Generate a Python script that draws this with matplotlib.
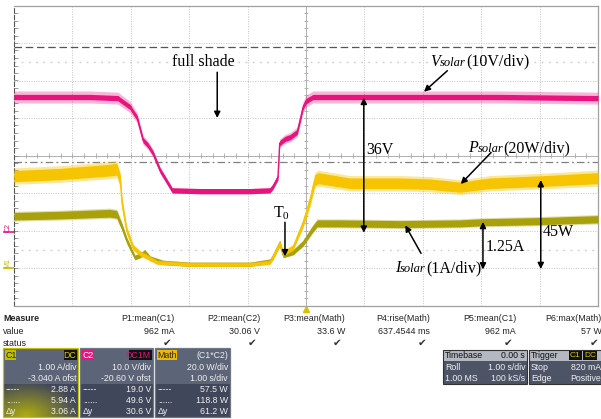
import numpy as np
import matplotlib.pyplot as plt
from matplotlib.patches import Rectangle
from matplotlib.offsetbox import TextArea, HPacker, AnnotationBbox

plt.rcParams['mathtext.fontset'] = 'custom'
plt.rcParams['mathtext.rm'] = 'Liberation Serif'
plt.rcParams['mathtext.it'] = 'Liberation Serif:italic'

# ---- scope data (time in s, 1 s/div) ----
t_v = [0, 1.30, 1.78, 1.82, 1.99, 2.04, 2.11, 2.21, 2.29, 2.38, 2.50, 2.71, 3.18, 4.04,
       4.38, 4.43, 4.52, 4.55, 4.64, 4.73, 4.85, 4.90, 4.95, 5.00, 5.12, 6.61, 8.32, 10.0]
v_solar = [36.2, 36.2, 35.9, 35.4, 33.5, 32.2, 30.6, 24.7, 23.4, 21.2, 16.7, 11.3, 11.1, 11.1,
           11.3, 12.2, 14.8, 23.9, 25.0, 25.5, 26.9, 30.1, 33.5, 35.1, 36.2, 36.2, 36.2, 35.9]

t_p = [0, 0.79, 1.64, 1.76, 1.82, 1.85, 1.93, 2.04, 2.16, 2.29, 2.45, 3.01, 4.04, 4.38, 4.43,
       4.55, 4.61, 4.78, 4.95, 5.07, 5.15, 5.21, 5.75, 6.61, 7.12, 7.64, 8.15, 9.01, 10.0]
p_solar = [49.6, 50.7, 52.8, 53.3, 47.4, 35.1, 20.7, 11.6, 8.4, 6.3, 3.6, 2.5, 2.5, 3.6, 6.3,
           13.8, 8.4, 11.6, 24.5, 36.7, 47.4, 48.5, 45.8, 45.8, 45.3, 43.7, 45.8, 46.9, 48.5]

t_i = [0, 0.79, 1.64, 1.76, 1.85, 1.93, 2.07, 2.16, 2.24, 2.33, 2.55, 3.01, 4.04, 4.38, 4.43,
       4.55, 4.61, 4.78, 4.95, 5.10, 5.19, 5.58, 6.61, 7.64, 8.03, 9.01, 10.0]
i_solar = [1.42, 1.45, 1.50, 1.47, 1.13, 0.78, 0.32, 0.38, 0.46, 0.30, 0.19, 0.14, 0.14, 0.22,
           0.32, 0.70, 0.38, 0.46, 0.70, 1.05, 1.23, 1.23, 1.21, 1.23, 1.26, 1.29, 1.34]

# channel settings (per div, offset)
V_DIV, V_OFST = 10.0, -20.60
I_DIV, I_OFST = 1.0, -3.04
P_DIV, P_OFST = 20.0, -60.6
cursor_dash = 5.94     # A, C1 "......" cursor
cursor_dashdot = 2.88  # A, C1 "-----" cursor


def to_div(val, per_div, ofst):
    return 4 + (np.asarray(val) + ofst) / per_div


MAG = '#e8137d'
YEL = '#f6c400'
OLV = '#a9a10c'

fig = plt.figure(figsize=(6.01, 4.19), dpi=100)
ov = fig.add_axes([0, 0, 1, 1])
ov.set_xlim(0, 601)
ov.set_ylim(419, 0)
ov.axis('off')

ax = fig.add_axes([14 / 601, 1 - 305.5 / 419, 584 / 601, 300 / 419])
ax.set_xlim(0, 10)
ax.set_ylim(0, 8)
ax.set_xticks([])
ax.set_yticks([])
for s in ['top', 'right', 'bottom']:
    ax.spines[s].set_color('#a0a0a0')
    ax.spines[s].set_linewidth(0.9)
ax.spines['left'].set_color('#555555')
ax.spines['left'].set_linestyle((0, (4, 2)))

# graticule
for i in range(1, 10):
    ax.axvline(i, color='#c4c4c4', ls=(0, (1, 1.5)), lw=0.7, zorder=0)
for j in range(1, 8):
    ax.axhline(j, color='#c4c4c4', ls=(0, (1, 1.5)), lw=0.7, zorder=0)
ax.axvline(5, color='#a8a8a8', lw=0.6, zorder=0)
ax.axhline(4, color='#a8a8a8', lw=0.6, zorder=0)
tx = np.arange(0.2, 10, 0.2)
ty = np.arange(0.2, 8, 0.2)
ax.vlines(tx, 4 - 0.06, 4 + 0.06, color='#a8a8a8', lw=0.6, zorder=0)
ax.hlines(ty, 5 - 0.04, 5 + 0.04, color='#a8a8a8', lw=0.6, zorder=0)
ax.hlines(ty, 0, 0.06, color='#888888', lw=0.6, zorder=0)
ax.axhline(6.5, color='#cccccc', ls=(0, (1.2, 4)), lw=1.0, zorder=0)
ax.axhline(1.47, color='#cccccc', ls=(0, (1.2, 4)), lw=1.0, zorder=0)

# cursors
ax.axhline(to_div(cursor_dash, I_DIV, I_OFST), color='#555555', ls=(0, (6, 3)), lw=0.9, zorder=1)
ax.axhline(to_div(cursor_dashdot, I_DIV, I_OFST), color='#808080', ls=(0, (6, 2.5, 1.5, 2.5)),
           lw=0.9, zorder=1)

# traces
yv = to_div(v_solar, V_DIV, V_OFST)
yp = to_div(p_solar, P_DIV, P_OFST)
yi = to_div(i_solar, I_DIV, I_OFST)
vs = np.array(v_solar) / 36.0
ps = np.array(p_solar) / 50.0
cs = np.array(i_solar) / 1.4

ax.fill_between(t_v, yv - (0.03 + 0.13 * vs), yv + (0.03 + 0.13 * vs), color=MAG, alpha=0.3, lw=0, zorder=3)
ax.fill_between(t_v, yv - 0.07, yv + 0.07, color=MAG, lw=0, zorder=3)
ax.plot(t_v, yv, color=MAG, lw=1.0, zorder=3)

ax.fill_between(t_i, yi - (0.05 + 0.08 * cs), yi + (0.05 + 0.08 * cs), color=OLV, alpha=0.35, lw=0, zorder=4)
ax.fill_between(t_i, yi - (0.05 + 0.05 * cs), yi + (0.05 + 0.05 * cs), color=OLV, lw=0, zorder=4)
ax.plot(t_i, yi, color=OLV, lw=1.0, zorder=4)

ax.fill_between(t_p, yp - (0.05 + 0.17 * ps), yp + (0.05 + 0.17 * ps), color=YEL, alpha=0.4, lw=0, zorder=5)
ax.fill_between(t_p, yp - (0.04 + 0.11 * ps), yp + (0.04 + 0.11 * ps), color=YEL, lw=0, zorder=5)
ax.plot(t_p, yp, color=YEL, lw=1.0, zorder=5)

# annotations
serif = dict(family='Liberation Serif', fontsize=11.5, color='black')
one = dict(arrowstyle='-|>', color='black', lw=1.1, mutation_scale=9, shrinkA=0, shrinkB=0)
two = dict(arrowstyle='<|-|>', color='black', lw=1.1, mutation_scale=9, shrinkA=0, shrinkB=0)


def sub_label(x, y, sym, sub, rest):
    parts = [TextArea(sym, textprops=dict(family='Liberation Serif', style='italic', fontsize=11.5)),
             TextArea(sub, textprops=dict(family='Liberation Serif', style='italic', fontsize=9)),
             TextArea(rest, textprops=dict(family='Liberation Serif', fontsize=11.5))]
    box = HPacker(children=parts, align='baseline', pad=0, sep=0)
    ab = AnnotationBbox(box, (x, y), xycoords='data', box_alignment=(0, 0.5), frameon=False,
                        pad=0, zorder=8)
    ax.add_artist(ab)


ax.text(3.25, 6.50, 'full shade', ha='center', va='center', zorder=8, **serif)
ax.annotate('', xy=(3.48, 5.0), xytext=(3.48, 6.22), arrowprops=one, zorder=8)

sub_label(7.13, 6.50, 'V', 'solar', '(10V/div)')
ax.annotate('', xy=(7.02, 5.70), xytext=(7.42, 6.26), arrowprops=one, zorder=8)

ax.annotate('', xy=(5.99, to_div(36.0, V_DIV, V_OFST)), xytext=(5.99, to_div(0, V_DIV, V_OFST)),
            arrowprops=two, zorder=8)
ax.text(6.04, 4.14, '36V', ha='left', va='center', zorder=8, **serif)

sub_label(7.77, 4.20, 'P', 'solar', '(20W/div)')
ax.annotate('', xy=(7.65, 3.24), xytext=(8.17, 4.08), arrowprops=one, zorder=8)

ax.annotate('', xy=(9.02, to_div(47.5, P_DIV, P_OFST)), xytext=(9.02, to_div(0, P_DIV, P_OFST)),
            arrowprops=two, zorder=8)
ax.text(9.06, 1.95, '45W', ha='left', va='center', zorder=8, **serif)

ax.annotate('', xy=(8.03, to_div(1.27, I_DIV, I_OFST)), xytext=(8.03, to_div(0, I_DIV, I_OFST)),
            arrowprops=two, zorder=8)
ax.text(8.08, 1.55, '1.25A', ha='left', va='center', zorder=8, **serif)

sub_label(6.52, 1.00, 'I', 'solar', '(1A/div)')
ax.annotate('', xy=(6.70, 2.14), xytext=(6.97, 1.39), arrowprops=one, zorder=8)

ax.text(4.43, 2.46, r'T$_{\mathrm{0}}$', ha='left', va='center', zorder=8, **serif)
ax.annotate('', xy=(4.64, 1.31), xytext=(4.64, 2.22), arrowprops=one, zorder=8)

# left-side channel markers and trigger marker
ov.text(8, 227, 'C2', color=MAG, fontsize=5, rotation=90, ha='center', va='center', family='Liberation Sans')
ov.plot([4, 14], [232, 232], color=MAG, lw=1.2)
ov.text(8, 263, 'M1', color='#c8b800', fontsize=5, rotation=90, ha='center', va='center', family='Liberation Sans')
ov.plot([4, 14], [268, 268], color='#c8b800', lw=1.2)
ov.plot([306], [309], marker='^', color='#d8c000', ms=4)

# ---- measurement table ----
sans = dict(family='Liberation Sans', fontsize=6.4, color='#222222')
ov.text(3, 318, 'Measure', fontweight='bold', va='center', **sans)
ov.text(3, 331, 'value', va='center', **sans)
ov.text(3, 343, 'status', va='center', **sans)
meas_names = ['P1:mean(C1)', 'P2:mean(C2)', 'P3:mean(Math)', 'P4:rise(Math)', 'P5:mean(C1)', 'P6:max(Math)']
meas_vals = ['962 mA', '30.06 V', '33.6 W', '637.4544 ms', '962 mA', '57 W']
col_right = [175, 260, 345, 430, 516, 602]
for name, val, xr in zip(meas_names, meas_vals, col_right):
    ov.text(xr, 318, name, ha='right', va='center', **sans)
    ov.text(xr, 331, val, ha='right', va='center', **sans)
    ov.text(xr - 3, 343, '\u2714', ha='right', va='center', fontsize=7.5, color='#333333', family='DejaVu Sans')

UP = '#5c6477'
LO = '#41475a'
wtxt = dict(family='Liberation Sans', fontsize=6.3, color='#f0f0f0')


def chan_box(x0, x1, label, lab_bg, lab_fg, tag, tag_fg, rows, border):
    ov.add_patch(Rectangle((x0, 348), x1 - x0, 36, color=UP, lw=0))
    ov.add_patch(Rectangle((x0, 384), x1 - x0, 33, color=LO, lw=0))
    ov.add_patch(Rectangle((x0, 348), x1 - x0, 69, fill=False, ec=border, lw=0.9))
    lw_ = 4.3 * len(label) + 3
    ov.add_patch(Rectangle((x0 + 1.5, 350), lw_, 10, color=lab_bg, lw=0))
    ov.text(x0 + 2.5, 355.5, label, ha='left', va='center', family='Liberation Sans', fontsize=6.3, color=lab_fg)
    if tag:
        tw = 5.0 * len(tag) + 3
        ov.add_patch(Rectangle((x1 - 1.5 - tw, 350), tw, 10, color='#111111', lw=0))
        ov.text(x1 - 2.5, 355.5, tag, ha='right', va='center', family='Liberation Sans', fontsize=6.3, color=tag_fg)
    for k, (left, right) in enumerate(rows):
        yy = 367 + 11.2 * k
        ov.text(x1 - 2, yy, right, ha='right', va='center', zorder=3, **wtxt)
        if left:
            ov.text(x0 + 3, yy, left, ha='left', va='center', zorder=3, **wtxt)


# C1 glow
gx, gy = np.meshgrid(np.linspace(0, 1, 60), np.linspace(0, 1, 40))
glow = np.clip(1 - np.hypot((gx - 0.3) / 0.75, (gy - 1.0) / 0.8), 0, 1)
rgba = np.zeros((40, 60, 4))
rgba[..., 0] = 0.78
rgba[..., 1] = 0.76
rgba[..., 2] = 0.0
rgba[..., 3] = 0.85 * glow
chan_box(3, 78, 'C1', '#c4bc00', '#222222', 'DC', '#d8cc00',
         [('', '1.00 A/div'), ('', '-3.040 A ofst'), ('-----', '2.88 A'), ('......', '5.94 A'), ('\u0394y', '3.06 A')],
         '#c8c000')
ov.imshow(rgba, extent=(3.5, 77.5, 416.5, 372), aspect='auto', zorder=1.5)
chan_box(80, 153, 'C2', MAG, '#ffffff', 'DC1M', MAG,
         [('', '10.0 V/div'), ('', '-20.60 V ofst'), ('-----', '19.0 V'), ('......', '49.6 V'), ('\u0394y', '30.6 V')],
         '#707888')
chan_box(155, 230, 'Math', '#f0b800', '#222222', '', '',
         [('', '20.0 W/div'), ('', '1.00 s/div'), ('-----', '57.5 W'), ('......', '118.8 W'), ('\u0394y', '61.2 W')],
         '#707888')
ov.text(228, 355.5, '(C1*C2)', ha='right', va='center', **wtxt)

# timebase / trigger boxes
for x0, x1, head, head_r, rows in [
        (443, 527, 'Timebase', '0.00 s', [('Roll', '1.00 s/div'), ('1.00 MS', '100 kS/s')]),
        (529, 603, 'Trigger', '', [('Stop', '820 mA'), ('Edge', 'Positive')])]:
    ov.add_patch(Rectangle((x0, 350), x1 - x0, 11, color='#b4b8c0', lw=0))
    ov.add_patch(Rectangle((x0, 361), x1 - x0, 23, color='#4c5466', lw=0))
    ov.add_patch(Rectangle((x0, 350), x1 - x0, 34, fill=False, ec='#333333', lw=0.8))
    ov.text(x0 + 2, 355.5, head, ha='left', va='center', family='Liberation Sans', fontsize=6.3, color='#111111')
    if head_r:
        ov.text(x1 - 2, 355.5, head_r, ha='right', va='center', family='Liberation Sans', fontsize=6.3, color='#111111')
    for k, (left, right) in enumerate(rows):
        yy = 367 + 11 * k
        ov.text(x0 + 2, yy, left, ha='left', va='center', **wtxt)
        ov.text(x1 - 2, yy, right, ha='right', va='center', **wtxt)
ov.add_patch(Rectangle((569, 351), 13, 9, color='#111111', lw=0))
ov.text(575.5, 355.5, 'C1', ha='center', va='center', family='Liberation Sans', fontsize=6, color='#d8cc00')
ov.add_patch(Rectangle((583, 351), 14, 9, color='#111111', lw=0))
ov.text(590, 355.5, 'DC', ha='center', va='center', family='Liberation Sans', fontsize=6, color='#d8cc00')

fig.savefig('out.png', dpi=100)
